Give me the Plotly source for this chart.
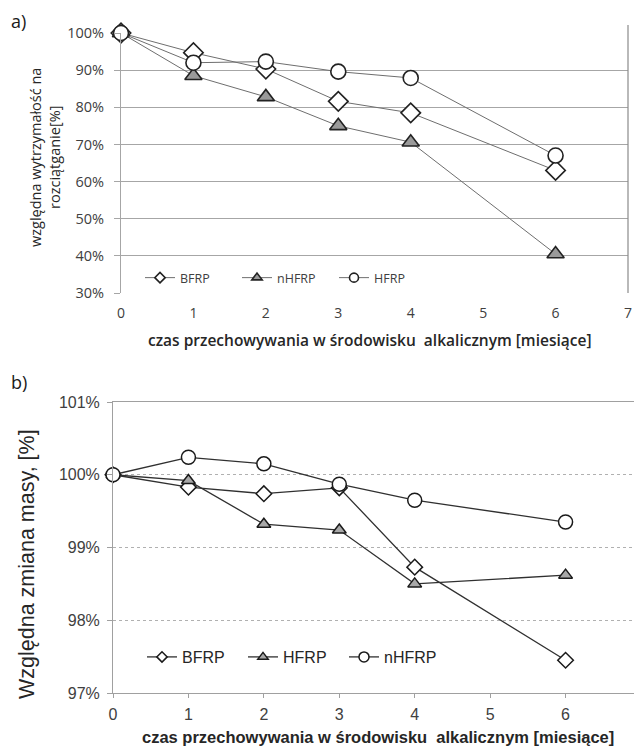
import plotly.graph_objects as go

# The page body has an 8 px margin, so the figure is offset by (8, 8).
OFF = 8
W, H = 642, 747

months = [0, 1, 2, 3, 4, 6]

# Chart a) relative tensile strength [%]
a_bfrp = [100, 94.7, 90.3, 81.6, 78.5, 63.0]
a_nhfrp = [100, 88.5, 82.8, 75.0, 70.6, 40.5]
a_hfrp = [100, 92.0, 92.3, 89.6, 87.9, 67.0]

# Chart b) relative mass change [%]
b_bfrp = [100, 99.83, 99.74, 99.82, 98.73, 97.45]
b_hfrp = [100, 99.92, 99.32, 99.24, 98.50, 98.62]
b_nhfrp = [100, 100.24, 100.15, 99.87, 99.65, 99.35]

a_yticks = [30, 40, 50, 60, 70, 80, 90, 100]
b_yticks = [97, 98, 99, 100, 101]
x_ticks = [0, 1, 2, 3, 4, 5, 6, 7]

xa_title = "czas przechowywania w środowisku  alkalicznym [miesiące]"
ya_title = "względna wytrzymałość na<br>rozciątganie[%]"
yb_title = "Względna zmiana masy, [%]"


def px_x(p):
    return (p - OFF) / W


def px_y(p):
    return 1 - (p - OFF) / H


fig = go.Figure()


def add_series(x, y, name, symbol, size, fill, line, mline, legend, xa, ya, leg_size):
    fig.add_trace(go.Scatter(x=x, y=y, name=name, mode="lines+markers",
                             line=line, showlegend=False, cliponaxis=False,
                             marker=dict(symbol=symbol, size=size, color=fill, line=mline),
                             xaxis=xa, yaxis=ya))
    fig.add_trace(go.Scatter(x=[None], y=[None], name=name, mode="lines+markers",
                             line=line, legend=legend, showlegend=True,
                             marker=dict(symbol=symbol, size=leg_size, color=fill, line=mline),
                             xaxis=xa, yaxis=ya))


line_a = dict(color="#6e6e6e", width=1)
ml_a = dict(color="#222222", width=1.6)
add_series(months, a_bfrp, "BFRP", "diamond", 15, "white", line_a, ml_a, "legend", "x", "y", 8)
add_series(months, a_nhfrp, "nHFRP", "triangle-up", 15, "#9a9a9a", line_a, ml_a, "legend", "x", "y", 9)
add_series(months, a_hfrp, "HFRP", "circle", 15, "white", line_a, ml_a, "legend", "x", "y", 9)

line_b = dict(color="#303030", width=1.3)
ml_b = dict(color="#1a1a1a", width=1.5)
add_series(months, b_bfrp, "BFRP", "diamond", 12, "white", line_b, ml_b, "legend2", "x2", "y2", 8)
add_series(months, b_hfrp, "HFRP", "triangle-up", 12, "#a8a8a8", line_b, ml_b, "legend2", "x2", "y2", 9)
add_series(months, b_nhfrp, "nHFRP", "circle", 14, "white", line_b, ml_b, "legend2", "x2", "y2", 10)

font_a = "Open Sans, DejaVu Sans, sans-serif"
font_b = "Liberation Sans, Arial, sans-serif"

fig.update_layout(
    width=W, height=H,
    margin=dict(l=0, r=0, t=0, b=0, autoexpand=False),
    paper_bgcolor="white", plot_bgcolor="white",
    showlegend=True,
    xaxis=dict(domain=[px_x(121), px_x(628)], range=[0, 7], tickvals=x_ticks,
               showgrid=False, zeroline=False, showline=False, ticks="",
               ticklabelstandoff=10,
               tickfont=dict(family=font_a, size=14, color="#404040"),
               anchor="y", fixedrange=True, automargin=False),
    yaxis=dict(domain=[px_y(293), px_y(33)], range=[30, 100], tickvals=a_yticks,
               ticktext=[f"{v}%" for v in a_yticks],
               showgrid=True, gridcolor="#a6a6a6", gridwidth=1,
               zeroline=False, showline=True, linecolor="#a6a6a6", linewidth=1,
               ticks="outside", ticklen=6, tickcolor="#a6a6a6",
               ticklabelstandoff=7,
               tickfont=dict(family=font_a, size=14.5, color="#404040"),
               anchor="x", fixedrange=True, automargin=False),
    xaxis2=dict(domain=[px_x(113), px_x(641)], range=[0, 7], tickvals=x_ticks,
                showgrid=False, zeroline=False, showline=True, mirror=True,
                linecolor="#a0a0a0", linewidth=1,
                ticks="outside", ticklen=4, tickcolor="#a0a0a0",
                ticklabelstandoff=3,
                tickfont=dict(family=font_b, size=16, color="#404040"),
                anchor="y2", fixedrange=True, automargin=False),
    yaxis2=dict(domain=[px_y(693), px_y(402)], range=[97, 101], tickvals=b_yticks,
                ticktext=[f"{v}%" for v in b_yticks],
                showgrid=True, gridcolor="#b0b0b0", gridwidth=1, griddash="dot",
                zeroline=False, showline=True, mirror=True,
                linecolor="#a0a0a0", linewidth=1,
                ticks="outside", ticklen=5, tickcolor="#a0a0a0",
                ticklabelstandoff=4,
                tickfont=dict(family=font_b, size=16, color="#404040"),
                anchor="x2", fixedrange=True, automargin=False),
    legend=dict(orientation="h", x=px_x(140), y=px_y(278), xanchor="left", yanchor="middle",
                bgcolor="rgba(255,255,255,0)", borderwidth=0,
                font=dict(family=font_a, size=12.5, color="#404040"),
                itemwidth=30, entrywidthmode="pixels", entrywidth=52),
    legend2=dict(orientation="h", x=px_x(142), y=px_y(657), xanchor="left", yanchor="middle",
                 bgcolor="rgba(255,255,255,0)", borderwidth=0,
                 font=dict(family=font_b, size=16, color="#262626"),
                 itemwidth=30, entrywidthmode="pixels", entrywidth=56),
    annotations=[
        dict(text="a)", x=px_x(9), y=px_y(21), xref="paper", yref="paper",
             xanchor="left", yanchor="middle", showarrow=False,
             font=dict(family=font_a, size=18, color="#1a1a1a")),
        dict(text="b)", x=px_x(9), y=px_y(382), xref="paper", yref="paper",
             xanchor="left", yanchor="middle", showarrow=False,
             font=dict(family=font_a, size=18, color="#1a1a1a")),
        dict(text=xa_title, x=px_x(370), y=px_y(340), xref="paper", yref="paper",
             xanchor="center", yanchor="middle", showarrow=False,
             font=dict(family=font_a, size=15.5, weight=600, color="#262626")),
        dict(text=ya_title, x=px_x(45), y=px_y(158), xref="paper", yref="paper",
             xanchor="center", yanchor="middle", showarrow=False, textangle=-90,
             font=dict(family=font_a, size=14.5, color="#262626")),
        dict(text="<b>" + xa_title + "</b>", x=px_x(378), y=px_y(737), xref="paper", yref="paper",
             xanchor="center", yanchor="middle", showarrow=False,
             font=dict(family=font_b, size=16.5, color="#262626")),
        dict(text=yb_title, x=px_x(27), y=px_y(564), xref="paper", yref="paper",
             xanchor="center", yanchor="middle", showarrow=False, textangle=-90,
             font=dict(family=font_b, size=21.5, color="#262626")),
    ],
    shapes=[
        dict(type="line", xref="paper", yref="paper",
             x0=px_x(628), x1=px_x(628), y0=px_y(293), y1=px_y(25),
             line=dict(color="#8a8a8a", width=1.2)),
    ],
)

fig.write_html("out.html")
